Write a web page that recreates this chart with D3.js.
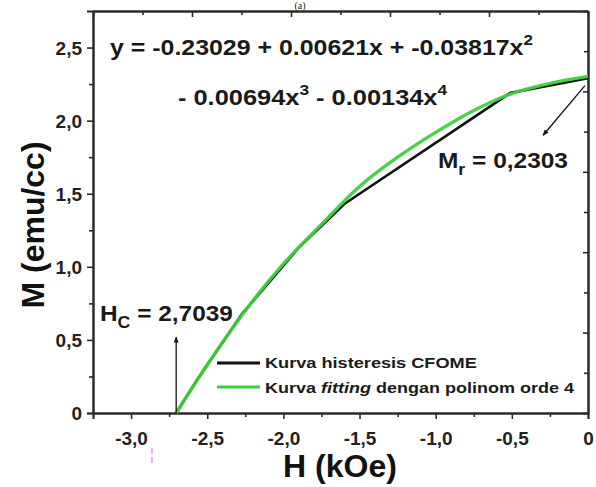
<!DOCTYPE html>
<html>
<head>
<meta charset="utf-8">
<script src="https://cdn.jsdelivr.net/npm/d3@7/dist/d3.min.js"></script>
<style>
  html, body { margin: 0; padding: 0; background: #fff; }
  svg { display: block; }
  text { font-family: Arial, "Liberation Sans", Helvetica, sans-serif; }
</style>
</head>
<body>
<svg id="chart" width="596" height="487"></svg>
<script>
// Demagnetisation branch of the CFOME hysteresis loop and its 4th-order polynomial fit
const hystH = [-2.7039, -2.57, -2.27, -1.90, -1.60, -0.51, 0];
const hystM = [0, 0.22, 0.68, 1.13, 1.43, 2.19, 2.29];
const fitH = [-2.7039, -2.5, -2.25, -2.0, -1.75, -1.5, -1.25, -1.0, -0.75, -0.5, -0.25, 0];
const fitM = [0, 0.33, 0.70, 1.02, 1.29, 1.55, 1.75, 1.92, 2.07, 2.185, 2.255, 2.303];
const xMajor = [-3.0, -2.5, -2.0, -1.5, -1.0, -0.5, 0];
const xMinor = [-3.25, -2.75, -2.25, -1.75, -1.25, -0.75, -0.25];
const yMajor = [0, 0.5, 1.0, 1.5, 2.0, 2.5];
const yMinor = [0.25, 0.75, 1.25, 1.75, 2.25];
const coercivity = 2.7039;
const remanence = "0,2303";
const seriesNames = ["Kurva histeresis CFOME", "Kurva fitting dengan polinom orde 4"];

const svg = d3.select("#chart");
const pLeft = 93, pRight = 588, pTop = 11, pBottom = 413;
const x = d3.scaleLinear().domain([-3.25, 0]).range([pLeft, pRight]);
const y = d3.scaleLinear().domain([0, 2.75]).range([pBottom, pTop]);
const frameX = d3.scaleLinear().domain([0, 10]).range([pLeft, pRight]);
const frameY = d3.scaleLinear().domain([0, 10]).range([pBottom, pTop]);
const axisColor = "#2b2b2b";
const fitColor = "#3fcf3f";
const fmt = d => d === 0 ? "0" : d.toFixed(1).replace(".", ",");

// stretch a text element horizontally to a target width
function fitWidth(sel, w) {
  const bb = sel.node().getBBox();
  const sx = w / bb.width;
  const ax = bb.x;
  sel.attr("transform", `translate(${ax},0) scale(${sx},1) translate(${-ax},0)`);
}

// arrow marker
svg.append("defs").append("marker")
  .attr("id", "arrow").attr("viewBox", "0 0 10 10")
  .attr("refX", 9).attr("refY", 5)
  .attr("markerWidth", 9).attr("markerHeight", 6)
  .attr("markerUnits", "userSpaceOnUse")
  .attr("orient", "auto")
  .append("path").attr("d", "M0,1 L10,5 L0,9 Z").attr("fill", "#111");

// panel label
svg.append("text").attr("x", 300).attr("y", 9).attr("text-anchor", "middle")
  .style("font-family", "'Liberation Serif', 'Times New Roman', serif")
  .attr("font-size", 10).attr("fill", "#222").text("(a)");

// bottom axis
const gx = svg.append("g").attr("transform", `translate(0,${pBottom})`)
  .call(d3.axisBottom(x).tickValues(xMajor).tickFormat(fmt).tickSize(6).tickPadding(4));
svg.append("g").attr("transform", `translate(0,${pBottom})`)
  .call(d3.axisBottom(x).tickValues(xMinor).tickFormat("").tickSize(4).tickSizeOuter(0));
// left axis
const gy = svg.append("g").attr("transform", `translate(${pLeft},0)`)
  .call(d3.axisLeft(y).tickValues(yMajor).tickFormat(fmt).tickSize(6).tickPadding(5));
svg.append("g").attr("transform", `translate(${pLeft},0)`)
  .call(d3.axisLeft(y).tickValues(yMinor).tickFormat("").tickSize(4).tickSizeOuter(0));
// top and right frame ticks (inward)
const frameTicks = d3.range(0, 11);
svg.append("g").attr("transform", `translate(0,${pTop})`)
  .call(d3.axisTop(frameX).tickValues(frameTicks.filter(k => k % 2 === 0)).tickFormat("").tickSize(-6).tickSizeOuter(0));
svg.append("g").attr("transform", `translate(0,${pTop})`)
  .call(d3.axisTop(frameX).tickValues(frameTicks.filter(k => k % 2 === 1)).tickFormat("").tickSize(-4).tickSizeOuter(0));
svg.append("g").attr("transform", `translate(${pRight},0)`)
  .call(d3.axisRight(frameY).tickValues(frameTicks.filter(k => k % 2 === 0)).tickFormat("").tickSize(-5).tickSizeOuter(0));
svg.append("g").attr("transform", `translate(${pRight},0)`)
  .call(d3.axisRight(frameY).tickValues(frameTicks.filter(k => k % 2 === 1)).tickFormat("").tickSize(-4).tickSizeOuter(0));

svg.selectAll(".domain").attr("stroke", axisColor).attr("stroke-width", 2);
svg.selectAll(".tick line").attr("stroke", axisColor).attr("stroke-width", 1.6);
svg.selectAll(".tick text").attr("font-family", "Arial, 'Liberation Sans', sans-serif")
  .attr("font-weight", "bold").attr("fill", "#222");
gx.selectAll(".tick text").attr("font-size", 19).attr("dy", 0).attr("y", 32);
gy.selectAll(".tick text").attr("font-size", 19).attr("dy", "0.36em");

// axis titles
svg.append("text").attr("x", 340).attr("y", 477).attr("text-anchor", "middle")
  .attr("font-size", 32).attr("font-weight", "bold").attr("fill", "#111").text("H (kOe)");
svg.append("text").attr("transform", "translate(44,225) rotate(-90)").attr("text-anchor", "middle")
  .attr("font-size", 32).attr("font-weight", "bold").attr("fill", "#111").text("M (emu/cc)");

// curves
const line = d3.line().x(d => x(d[0])).y(d => y(d[1]));
svg.append("path").datum(hystH.map((h, i) => [h, hystM[i]]))
  .attr("d", line).attr("fill", "none").attr("stroke", "#111").attr("stroke-width", 2.6)
  .attr("stroke-linejoin", "round");
svg.append("path").datum(fitH.map((h, i) => [h, fitM[i]]))
  .attr("d", line.curve(d3.curveCatmullRom)).attr("fill", "none")
  .attr("stroke", fitColor).attr("stroke-width", 3.4).attr("stroke-opacity", 0.95);

// equation of the fit
const eq1 = svg.append("text").attr("x", 110).attr("y", 55)
  .attr("font-size", 22).attr("font-weight", "bold").attr("fill", "#1a1a1a");
eq1.append("tspan").text("y = -0.23029 + 0.00621x + -0.03817x");
eq1.append("tspan").attr("dy", -10).attr("font-size", 15).text("2");
fitWidth(eq1, 423);
const eq2 = svg.append("text").attr("x", 178).attr("y", 105)
  .attr("font-size", 22).attr("font-weight", "bold").attr("fill", "#1a1a1a");
eq2.append("tspan").text("- 0.00694x");
eq2.append("tspan").attr("dy", -10).attr("font-size", 15).text("3");
eq2.append("tspan").attr("dy", 10).text(" - 0.00134x");
eq2.append("tspan").attr("dy", -10).attr("font-size", 15).text("4");
fitWidth(eq2, 270);

// remanence annotation
svg.append("line")
  .attr("x1", x(-0.02)).attr("y1", y(2.24)).attr("x2", x(-0.295)).attr("y2", y(1.90))
  .attr("stroke", "#111").attr("stroke-width", 1.3).attr("marker-end", "url(#arrow)");
const mr = svg.append("text").attr("x", 438).attr("y", 168)
  .attr("font-size", 22).attr("font-weight", "bold").attr("fill", "#1a1a1a");
mr.append("tspan").text("M");
mr.append("tspan").attr("dy", 7).attr("font-size", 16).text("r");
mr.append("tspan").attr("dy", -7).text(" = " + remanence);
fitWidth(mr, 130);

// coercivity annotation
svg.append("line")
  .attr("x1", x(-coercivity)).attr("y1", y(0)).attr("x2", x(-coercivity)).attr("y2", y(0.52))
  .attr("stroke", "#111").attr("stroke-width", 1.3).attr("marker-end", "url(#arrow)");
const hc = svg.append("text").attr("x", 100).attr("y", 321)
  .attr("font-size", 22).attr("font-weight", "bold").attr("fill", "#1a1a1a");
hc.append("tspan").text("H");
hc.append("tspan").attr("dy", 7).attr("font-size", 16).text("C");
hc.append("tspan").attr("dy", -7).text(" = " + coercivity.toString().replace(".", ","));
fitWidth(hc, 133);

// legend
const legend = svg.append("g");
const legendRows = [
  { y: 363, color: "#111", w: 2.8 },
  { y: 387, color: fitColor, w: 2.8 }
];
legendRows.forEach(r => {
  legend.append("line").attr("x1", 217).attr("x2", 260).attr("y1", r.y).attr("y2", r.y)
    .attr("stroke", r.color).attr("stroke-width", r.w);
});
const l1 = legend.append("text").attr("x", 265).attr("y", 368)
  .attr("font-size", 15).attr("font-weight", "bold").attr("fill", "#1a1a1a").text(seriesNames[0]);
fitWidth(l1, 212);
const l2 = legend.append("text").attr("x", 265).attr("y", 393)
  .attr("font-size", 15).attr("font-weight", "bold").attr("fill", "#1a1a1a");
l2.append("tspan").text("Kurva ");
l2.append("tspan").attr("font-style", "italic").text("fitting");
l2.append("tspan").text(" dengan polinom orde 4");
fitWidth(l2, 310);

// small pink mark below the axis
svg.append("text").attr("x", 152).attr("y", 460).attr("text-anchor", "middle")
  .attr("font-size", 17).attr("fill", "#d99be3").text("¦");
</script>
</body>
</html>
